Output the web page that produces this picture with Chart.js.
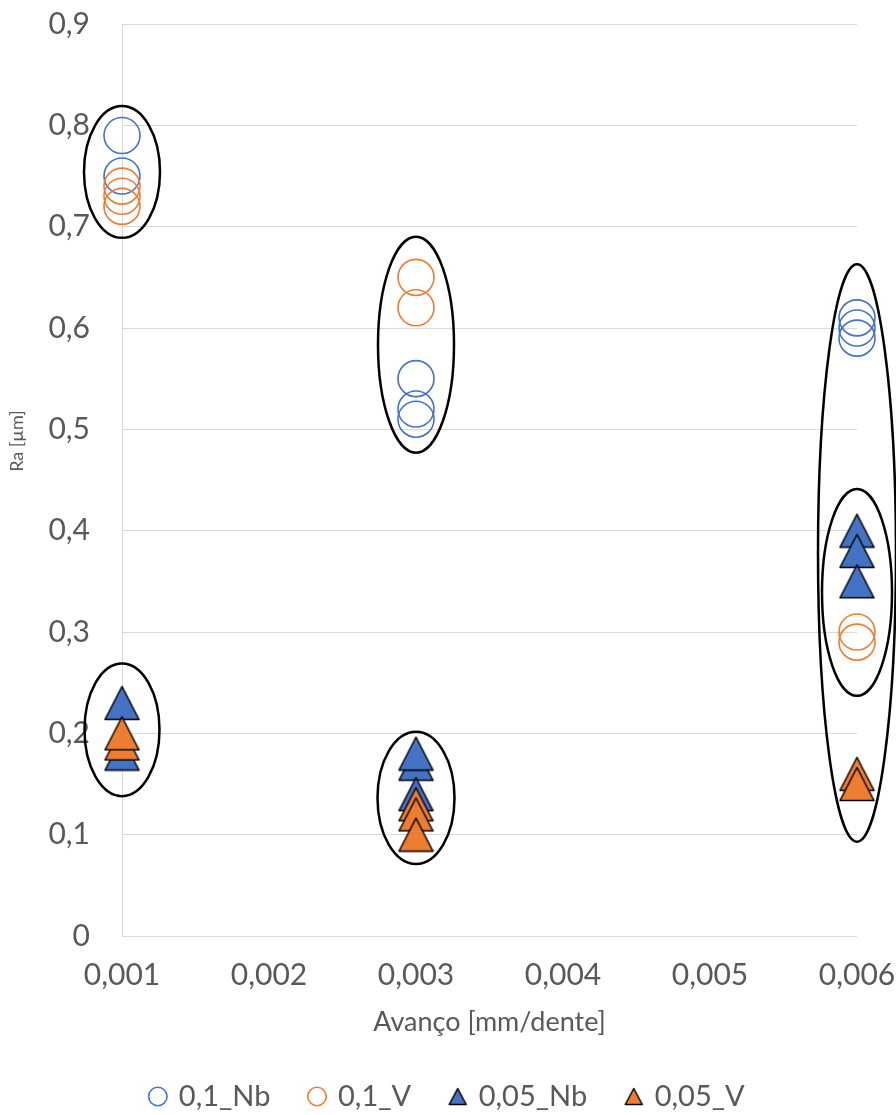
<!DOCTYPE html>
<html>
<head>
<meta charset="utf-8">
<script src="https://cdn.jsdelivr.net/npm/chart.js@4.4.1/dist/chart.umd.min.js"></script>
<style>
  html, body { margin: 0; padding: 0; background: #ffffff; overflow: hidden; }
  #wrap { width: 896px; height: 1115px; }
</style>
</head>
<body>
<div id="wrap"><canvas id="chart" width="896" height="1115"></canvas></div>
<script>
// Feed rates (mm/dente) where the measurements were taken
const feedRates = [0.001, 0.003, 0.006];

// Ra [µm] readings, one inner list per feed rate
const nb01Ra = [[0.79, 0.75], [0.55, 0.52, 0.51], [0.61, 0.60, 0.59]];
const v01Ra  = [[0.74, 0.73, 0.72], [0.65, 0.62], [0.30, 0.29]];
const nb005Ra = [[0.18, 0.23], [0.17, 0.18, 0.14], [0.40, 0.38, 0.35]];
const v005Ra  = [[0.19, 0.20], [0.13, 0.12, 0.10], [0.16, 0.15]];

const seriesNames = ['0,1_Nb', '0,1_V', '0,05_Nb', '0,05_V'];

// Axis ticks
const xTickValues = [0.001, 0.002, 0.003, 0.004, 0.005, 0.006];
const xTickLabels = ['0,001', '0,002', '0,003', '0,004', '0,005', '0,006'];
const yTickValues = [0, 0.1, 0.2, 0.3, 0.4, 0.5, 0.6, 0.7, 0.8, 0.9];
const yTickLabels = ['0', '0,1', '0,2', '0,3', '0,4', '0,5', '0,6', '0,7', '0,8', '0,9'];

// Group rings: feed rate, and the Ra range each ring spans
const ringFeed   = [0.001, 0.003, 0.006, 0.006, 0.001, 0.003];
const ringTop    = [0.819, 0.690, 0.663, 0.441, 0.269, 0.2015];
const ringBottom = [0.689, 0.477, 0.093, 0.237, 0.138, 0.071];
const ringHalfWidthPx = [38, 38, 39, 35, 37.5, 38.5];

const BLUE = '#4472C4';
const ORANGE = '#ED7D31';
const TEXT = '#595959';
const GRID = '#D9D9D9';
const FONT = 'Lato';

function toPoints(groups) {
  return feedRates.flatMap((f, i) => (groups[i] || []).map(v => ({ x: f, y: v })));
}

// Triangle marker as a canvas so its box is centred on the value
function triangleMarker(w, h, fill, lw) {
  const c = document.createElement('canvas');
  c.width = Math.ceil(w + lw * 2);
  c.height = Math.ceil(h + lw * 2);
  const g = c.getContext('2d');
  g.beginPath();
  g.moveTo(c.width / 2, lw);
  g.lineTo(c.width - lw, c.height - lw);
  g.lineTo(lw, c.height - lw);
  g.closePath();
  g.fillStyle = fill;
  g.fill();
  g.lineWidth = lw;
  g.lineJoin = 'round';
  g.strokeStyle = '#000000';
  g.stroke();
  return c;
}

const ringsPlugin = {
  id: 'rings',
  afterDatasetsDraw(chart) {
    const { ctx, scales: { x, y } } = chart;
    ctx.save();
    ctx.strokeStyle = '#000000';
    ctx.lineWidth = 2.5;
    ringFeed.forEach((f, i) => {
      const cx = x.getPixelForValue(f);
      const yt = y.getPixelForValue(ringTop[i]);
      const yb = y.getPixelForValue(ringBottom[i]);
      ctx.beginPath();
      ctx.ellipse(cx, (yt + yb) / 2, ringHalfWidthPx[i], (yb - yt) / 2, 0, 0, Math.PI * 2);
      ctx.stroke();
    });
    ctx.restore();
  }
};

const yTitlePlugin = {
  id: 'yTitle',
  afterDraw(chart) {
    const { ctx } = chart;
    ctx.save();
    ctx.translate(17, 441);
    ctx.rotate(-Math.PI / 2);
    ctx.font = '18px ' + FONT;
    ctx.fillStyle = TEXT;
    ctx.textAlign = 'center';
    ctx.textBaseline = 'middle';
    ctx.fillText('Ra [µm]', 0, 0);
    ctx.restore();
  }
};

const LEGEND_HEIGHT = 73;
const legendHeightPlugin = {
  id: 'legendHeight',
  beforeLayout(chart) {
    const lg = chart.legend;
    if (lg && !lg._fixedHeight) {
      const fit = lg.fit;
      lg.fit = function () { fit.call(this); this.height = LEGEND_HEIGHT; };
      lg._fixedHeight = true;
    }
  }
};

function draw() {
  const triBlue = triangleMarker(34, 33, BLUE, 1.5);
  const triOrange = triangleMarker(34, 33, ORANGE, 1.5);
  const triBlueSmall = triangleMarker(17, 16, BLUE, 1.5);
  const triOrangeSmall = triangleMarker(17, 16, ORANGE, 1.5);

  // later series are painted above earlier ones
  const circleSet = (label, groups, color, order) => ({
    label, data: toPoints(groups), order,
    pointStyle: 'circle', pointRadius: 18, pointHoverRadius: 18,
    pointBorderWidth: 1.6, borderWidth: 1.6,
    borderColor: color, pointBorderColor: color,
    backgroundColor: 'rgba(0,0,0,0)', pointBackgroundColor: 'rgba(0,0,0,0)',
    clip: false
  });
  const triangleSet = (label, groups, color, img, small, order) => ({
    label, data: toPoints(groups), order,
    pointStyle: img, legendMarker: small, pointRadius: 18, pointHoverRadius: 18,
    borderWidth: 1.5, borderColor: '#000000', backgroundColor: color,
    clip: false
  });

  new Chart(document.getElementById('chart'), {
    type: 'scatter',
    data: {
      datasets: [
        circleSet(seriesNames[0], nb01Ra, BLUE, 4),
        circleSet(seriesNames[1], v01Ra, ORANGE, 3),
        triangleSet(seriesNames[2], nb005Ra, BLUE, triBlue, triBlueSmall, 2),
        triangleSet(seriesNames[3], v005Ra, ORANGE, triOrange, triOrangeSmall, 1)
      ]
    },
    options: {
      responsive: false,
      devicePixelRatio: 1,
      animation: false,
      events: [],
      layout: { autoPadding: false, padding: 0 },
      scales: {
        x: {
          type: 'linear', min: 0.001, max: 0.006,
          afterBuildTicks: s => { s.ticks = xTickValues.map(v => ({ value: v })); },
          afterFit: s => { s.height = 106; s.paddingLeft = 0; s.paddingRight = 39; },
          ticks: {
            callback: (v, i) => xTickLabels[i],
            font: { family: FONT, size: 30 }, color: TEXT, padding: 21,
            maxRotation: 0, autoSkip: false
          },
          grid: { display: false, drawTicks: false },
          border: { display: false },
          title: {
            display: true, text: 'Avanço [mm/dente]',
            font: { family: FONT, size: 27 }, color: TEXT,
            padding: { top: 0, bottom: 4 }
          }
        },
        y: {
          type: 'linear', min: 0, max: 0.9,
          afterBuildTicks: s => { s.ticks = yTickValues.map(v => ({ value: v })); },
          afterFit: s => { s.width = 122; s.paddingTop = 24; s.paddingBottom = 0; },
          ticks: {
            callback: (v, i) => yTickLabels[i],
            font: { family: FONT, size: 30 }, color: TEXT, padding: 32
          },
          grid: { color: GRID, lineWidth: 1, drawTicks: false },
          border: { display: true, color: GRID, width: 1 }
        }
      },
      plugins: {
        tooltip: { enabled: false },
        legend: {
          position: 'bottom',
          labels: {
            usePointStyle: true, boxWidth: 13, boxHeight: 13,
            padding: 40, color: TEXT,
            font: { family: FONT, size: 29 },
            generateLabels(chart) {
              const items = Chart.defaults.plugins.legend.labels.generateLabels(chart);
              items.forEach(it => {
                const ds = chart.data.datasets[it.datasetIndex];
                if (ds.legendMarker) it.pointStyle = ds.legendMarker;
              });
              return items.sort((a, b) => a.datasetIndex - b.datasetIndex);
            }
          }
        }
      }
    },
    plugins: [legendHeightPlugin, ringsPlugin, yTitlePlugin]
  });
}

if (document.fonts && document.fonts.load) {
  Promise.all([document.fonts.load('30px Lato'), document.fonts.load('18px Lato')]).then(draw, draw);
} else {
  draw();
}
</script>
</body>
</html>
